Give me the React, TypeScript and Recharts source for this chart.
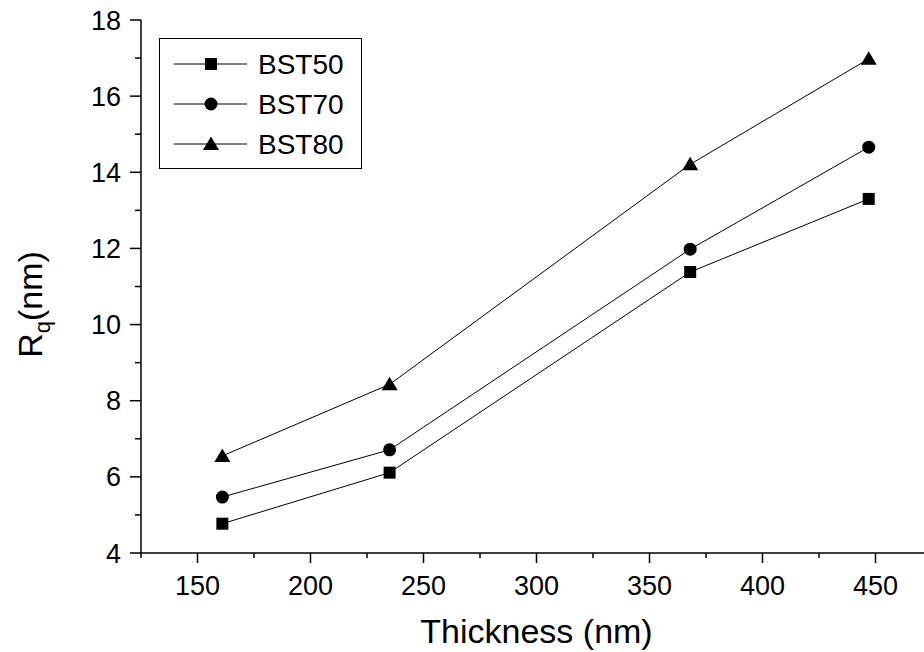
import { LineChart, Line, XAxis, YAxis } from 'recharts';

// Film thickness (nm) and RMS roughness Rq (nm) for each composition
const thickness = [161, 235, 368, 447];
const bst50 = [4.77, 6.11, 11.38, 13.3];
const bst70 = [5.47, 6.71, 11.98, 14.66];
const bst80 = [6.55, 8.43, 14.21, 16.98];

const xTicks = [125, 150, 175, 200, 225, 250, 275, 300, 325, 350, 375, 400, 425, 450, 475];
const yTicks = [4, 5, 6, 7, 8, 9, 10, 11, 12, 13, 14, 15, 16, 17, 18];

const seriesNames = ['BST50', 'BST70', 'BST80'];

const FONT = '"Liberation Sans", Arial, sans-serif';

const data = thickness.map((t, i) => ({
    t,
    bst50: bst50[i],
    bst70: bst70[i],
    bst80: bst80[i],
}));

type MarkerKind = 'square' | 'circle' | 'triangle';

const Marker = ({ kind, cx, cy }: { kind: MarkerKind; cx: number; cy: number }) => {
    if (kind === 'square') {
        return <rect x={cx - 6} y={cy - 6} width={12} height={12} fill="#000" />;
    }
    if (kind === 'circle') {
        return <circle cx={cx} cy={cy} r={6.5} fill="#000" />;
    }
    return <polygon points={`${cx},${cy - 7.5} ${cx - 8},${cy + 6} ${cx + 8},${cy + 6}`} fill="#000" />;
};

const makeDot = (kind: MarkerKind) => (props: any) => {
    const { cx, cy, index } = props;
    if (cx == null || cy == null) return <g key={`${kind}-${index}`} />;
    return (
        <g key={`${kind}-${index}`}>
            <Marker kind={kind} cx={cx} cy={cy} />
        </g>
    );
};

const XTick = ({ x, y, payload }: any) => {
    const v = payload.value;
    const major = v % 50 === 0;
    return (
        <g>
            <line x1={x} y1={y} x2={x} y2={y + (major ? 10 : 5)} stroke="#000" strokeWidth={1.5} />
            {major && (
                <text x={x} y={y + 42} textAnchor="middle" fontSize={27} fontFamily={FONT} fill="#000">
                    {v}
                </text>
            )}
        </g>
    );
};

const YTick = ({ x, y, payload }: any) => {
    const v = payload.value;
    const major = v % 2 === 0;
    return (
        <g>
            <line x1={x} y1={y} x2={x - (major ? 11 : 6)} y2={y} stroke="#000" strokeWidth={1.5} />
            {major && (
                <text x={x - 20} y={y + 9.5} textAnchor="end" fontSize={27} fontFamily={FONT} fill="#000">
                    {v}
                </text>
            )}
        </g>
    );
};

const YTitle = ({ viewBox }: any) => {
    const cx = viewBox.x + 42;
    const cy = viewBox.y + viewBox.height / 2 + 18;
    return (
        <text
            x={cx}
            y={cy}
            transform={`rotate(-90, ${cx}, ${cy})`}
            textAnchor="middle"
            fontSize={34}
            fontFamily={FONT}
            fill="#000"
        >
            R<tspan fontSize={22} dy={8}>q</tspan>
            <tspan dy={-8}>(nm)</tspan>
        </text>
    );
};

const kinds: MarkerKind[] = ['square', 'circle', 'triangle'];

const LegendBox = () => (
    <svg width={203} height={131} style={{ position: 'absolute', left: 159, top: 38 }}>
        <rect x={0.5} y={0.5} width={202} height={130} fill="#fff" stroke="#000" strokeWidth={1} />
        {seriesNames.map((name, i) => {
            const cy = 26 + i * 40;
            return (
                <g key={name}>
                    <line x1={15} y1={cy} x2={88} y2={cy} stroke="#000" strokeWidth={1} />
                    <Marker kind={kinds[i]} cx={52} cy={cy} />
                    <text x={99} y={cy + 10} fontSize={28} fontFamily={FONT} fill="#000">
                        {name}
                    </text>
                </g>
            );
        })}
    </svg>
);

export default function App() {
    return (
        <div
            style={{
                position: 'absolute',
                left: 0,
                top: 0,
                width: 924,
                height: 652,
                overflow: 'hidden',
                background: '#fff',
            }}
        >
            <LineChart
                width={950}
                height={652}
                data={data}
                margin={{ top: 20, right: 18, bottom: 0, left: 0 }}
            >
                <XAxis
                    type="number"
                    dataKey="t"
                    domain={[125, 475]}
                    ticks={xTicks}
                    interval={0}
                    allowDataOverflow
                    height={99}
                    tickSize={0}
                    tickMargin={0}
                    tickLine={false}
                    axisLine={{ stroke: '#000', strokeWidth: 1.5 }}
                    tick={<XTick />}
                    label={{
                        value: 'Thickness (nm)',
                        position: 'insideBottom',
                        offset: 9,
                        fontSize: 34,
                        fontFamily: FONT,
                        fill: '#000',
                    }}
                />
                <XAxis
                    xAxisId="top"
                    orientation="top"
                    type="number"
                    dataKey="t"
                    domain={[125, 475]}
                    height={0}
                    tick={false}
                    tickLine={false}
                    axisLine={{ stroke: '#000', strokeWidth: 1.2 }}
                />
                <YAxis
                    type="number"
                    domain={[4, 18]}
                    ticks={yTicks}
                    interval={0}
                    width={141}
                    tickSize={0}
                    tickMargin={0}
                    tickLine={false}
                    axisLine={{ stroke: '#000', strokeWidth: 1.5 }}
                    tick={<YTick />}
                    label={<YTitle />}
                />
                <YAxis
                    yAxisId="right"
                    orientation="right"
                    type="number"
                    domain={[4, 18]}
                    width={0}
                    tick={false}
                    tickLine={false}
                    axisLine={{ stroke: '#000', strokeWidth: 1.2 }}
                />
                <Line
                    dataKey="bst50"
                    name={seriesNames[0]}
                    stroke="#000"
                    strokeWidth={1}
                    dot={makeDot('square')}
                    activeDot={false}
                    isAnimationActive={false}
                />
                <Line
                    dataKey="bst70"
                    name={seriesNames[1]}
                    stroke="#000"
                    strokeWidth={1}
                    dot={makeDot('circle')}
                    activeDot={false}
                    isAnimationActive={false}
                />
                <Line
                    dataKey="bst80"
                    name={seriesNames[2]}
                    stroke="#000"
                    strokeWidth={1}
                    dot={makeDot('triangle')}
                    activeDot={false}
                    isAnimationActive={false}
                />
            </LineChart>
            <LegendBox />
        </div>
    );
}
